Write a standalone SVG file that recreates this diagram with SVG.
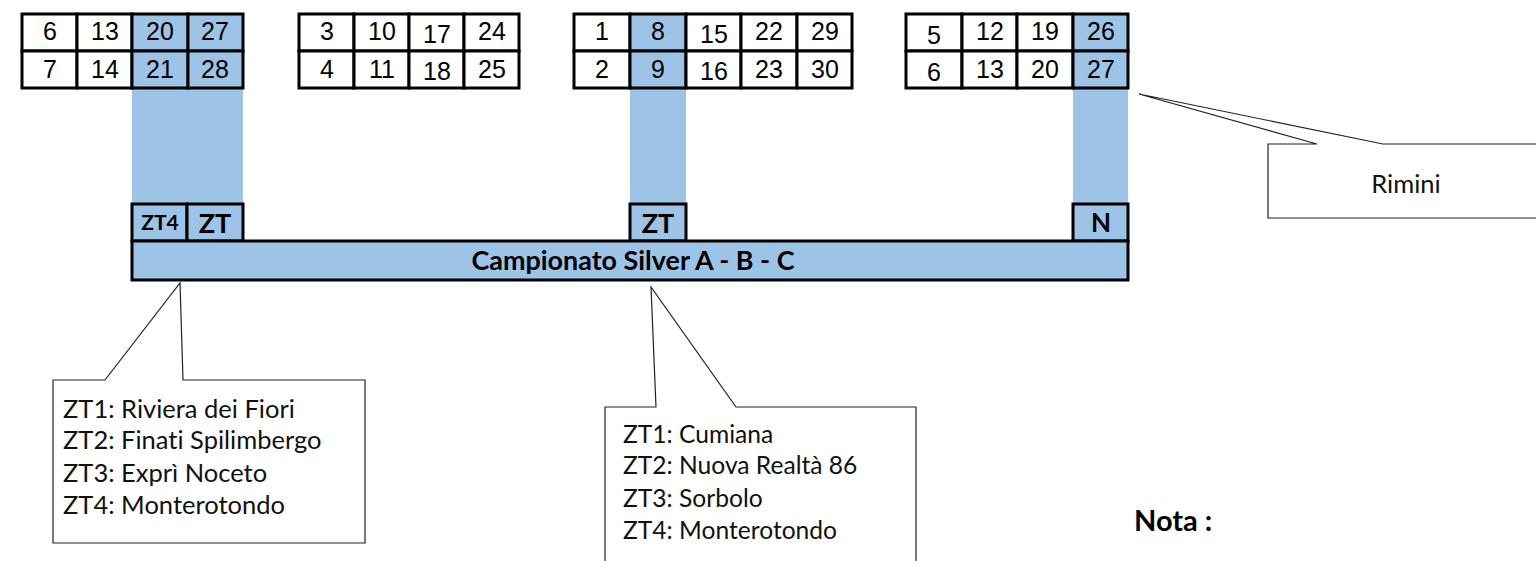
<svg xmlns="http://www.w3.org/2000/svg" width="1536" height="561" viewBox="0 0 1536 561">
<style>
.cell{fill:#fff;stroke:#000;stroke-width:3}
.bcell{fill:#9DC3E6;stroke:#000;stroke-width:3}
.bar{fill:#9DC3E6}
.num{font-family:"Liberation Sans",Arial,sans-serif;font-size:25px;fill:#000;text-anchor:middle}
.lbl{font-family:Lato,"Open Sans",sans-serif;font-weight:bold;fill:#000;text-anchor:middle;font-variant-ligatures:none}
.call{fill:#fff;stroke:#222;stroke-width:1.2}
.ct{font-family:Lato,"Open Sans",sans-serif;font-size:25.5px;fill:#111;font-variant-ligatures:none}
.ct2{font-family:Lato,"Open Sans",sans-serif;font-size:24.6px;fill:#111;font-variant-ligatures:none}
</style>
<rect width="1536" height="561" fill="#fff"/>

<g id="bars">
<rect class="bar" x="132" y="88" width="111" height="116"/>
<rect class="bar" x="630" y="88" width="56" height="116"/>
<rect class="bar" x="1073" y="88" width="55" height="116"/>
</g>

<g id="table1">
<rect class="cell" x="22" y="14" width="55" height="37"/>
<rect class="cell" x="77" y="14" width="55" height="37"/>
<rect class="bcell" x="132" y="14" width="56" height="37"/>
<rect class="bcell" x="188" y="14" width="55" height="37"/>
<rect class="cell" x="22" y="51" width="55" height="37"/>
<rect class="cell" x="77" y="51" width="55" height="37"/>
<rect class="bcell" x="132" y="51" width="56" height="37"/>
<rect class="bcell" x="188" y="51" width="55" height="37"/>
<text class="num" x="50" y="40">6</text><text class="num" x="105" y="40">13</text><text class="num" x="160" y="40">20</text><text class="num" x="215" y="40">27</text>
<text class="num" x="50" y="78">7</text><text class="num" x="105" y="78">14</text><text class="num" x="160" y="78">21</text><text class="num" x="215" y="78">28</text>
</g>

<g id="table2">
<rect class="cell" x="299" y="14" width="55" height="37"/>
<rect class="cell" x="354" y="14" width="55" height="37"/>
<rect class="cell" x="409" y="14" width="55" height="37"/>
<rect class="cell" x="464" y="14" width="55" height="37"/>
<rect class="cell" x="299" y="51" width="55" height="37"/>
<rect class="cell" x="354" y="51" width="55" height="37"/>
<rect class="cell" x="409" y="51" width="55" height="37"/>
<rect class="cell" x="464" y="51" width="55" height="37"/>
<text class="num" x="327" y="40">3</text><text class="num" x="382" y="40">10</text><text class="num" x="437" y="43">17</text><text class="num" x="492" y="40">24</text>
<text class="num" x="327" y="78">4</text><text class="num" x="382" y="78">11</text><text class="num" x="437" y="80">18</text><text class="num" x="492" y="78">25</text>
</g>

<g id="table3">
<rect class="cell" x="574" y="14" width="56" height="37"/>
<rect class="bcell" x="630" y="14" width="56" height="37"/>
<rect class="cell" x="686" y="14" width="55" height="37"/>
<rect class="cell" x="741" y="14" width="56" height="37"/>
<rect class="cell" x="797" y="14" width="55" height="37"/>
<rect class="cell" x="574" y="51" width="56" height="37"/>
<rect class="bcell" x="630" y="51" width="56" height="37"/>
<rect class="cell" x="686" y="51" width="55" height="37"/>
<rect class="cell" x="741" y="51" width="56" height="37"/>
<rect class="cell" x="797" y="51" width="55" height="37"/>
<text class="num" x="602" y="40">1</text><text class="num" x="658" y="40">8</text><text class="num" x="714" y="43">15</text><text class="num" x="769" y="40">22</text><text class="num" x="825" y="40">29</text>
<text class="num" x="602" y="78">2</text><text class="num" x="658" y="78">9</text><text class="num" x="714" y="80">16</text><text class="num" x="769" y="78">23</text><text class="num" x="825" y="78">30</text>
</g>

<g id="table4">
<rect class="cell" x="906" y="14" width="56" height="37"/>
<rect class="cell" x="962" y="14" width="55" height="37"/>
<rect class="cell" x="1017" y="14" width="56" height="37"/>
<rect class="bcell" x="1073" y="14" width="55" height="37"/>
<rect class="cell" x="906" y="51" width="56" height="37"/>
<rect class="cell" x="962" y="51" width="55" height="37"/>
<rect class="cell" x="1017" y="51" width="56" height="37"/>
<rect class="bcell" x="1073" y="51" width="55" height="37"/>
<text class="num" x="934" y="44">5</text><text class="num" x="990" y="40">12</text><text class="num" x="1045" y="40">19</text><text class="num" x="1101" y="40">26</text>
<text class="num" x="934" y="81">6</text><text class="num" x="990" y="78">13</text><text class="num" x="1045" y="78">20</text><text class="num" x="1101" y="78">27</text>
</g>

<g id="zt-boxes">
<rect class="bcell" x="132" y="204" width="55" height="37"/>
<text class="lbl" x="160" y="230" font-size="21">ZT4</text>
<rect class="bcell" x="187" y="204" width="56" height="37"/>
<text class="lbl" x="215" y="233" font-size="27">ZT</text>
<rect class="bcell" x="630" y="204" width="56" height="37"/>
<text class="lbl" x="658" y="233" font-size="27">ZT</text>
<rect class="bcell" x="1073" y="204" width="55" height="37"/>
<text class="lbl" x="1101" y="232" font-size="26">N</text>
</g>

<g id="main-bar">
<rect class="bcell" x="132" y="241" width="996" height="39"/>
<text class="lbl" x="633" y="270" font-size="26.9">Campionato Silver A - B - C</text>
</g>

<g id="connectors">
<path id="callout-left" class="call" d="M53,380 L105,380 L180,283 L183,380 L365,380 L365,543 L53,543 Z"/>
<path id="callout-mid" class="call" d="M605,407 L656,407 L651,287 L736,407 L916,407 L916,575 L605,575 Z"/>
<path id="callout-rimini" class="call" d="M1268,144 L1317,144 L1139,94 L1383,144 L1545,144 L1545,218 L1268,218 Z"/>
</g>

<g id="callout-left-text">
<text class="ct" x="63" y="418">ZT1: Riviera dei Fiori</text>
<text class="ct" x="63" y="449">ZT2: Finati Spilimbergo</text>
<text class="ct" x="63" y="482">ZT3: Exprì Noceto</text>
<text class="ct" x="63" y="514">ZT4: Monterotondo</text>
</g>

<g id="callout-mid-text">
<text class="ct2" x="623" y="443">ZT1: Cumiana</text>
<text class="ct2" x="623" y="474">ZT2: Nuova Realtà 86</text>
<text class="ct2" x="623" y="507">ZT3: Sorbolo</text>
<text class="ct2" x="623" y="539">ZT4: Monterotondo</text>
</g>

<g id="rimini">
<text class="ct" x="1406" y="193" text-anchor="middle" font-size="25">Rimini</text>
</g>

<g id="nota">
<text x="1134" y="531" font-family="Lato,'Open Sans',sans-serif" font-weight="bold" font-size="29" fill="#000">Nota :</text>
</g>
</svg>
